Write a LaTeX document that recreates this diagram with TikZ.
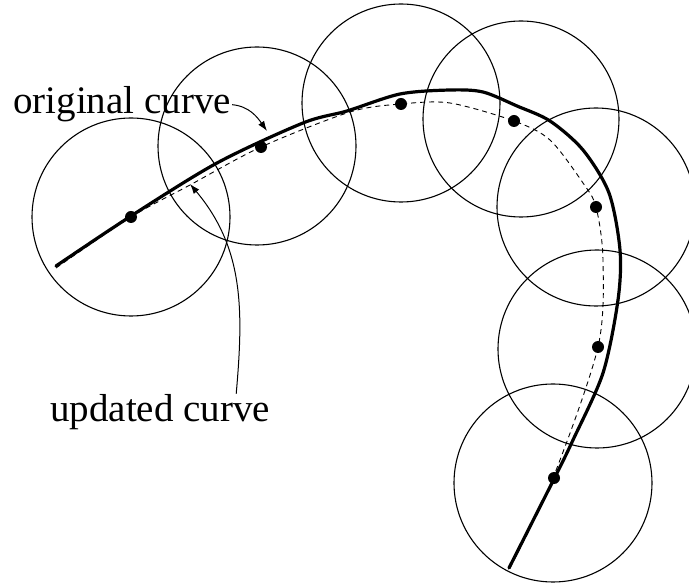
\documentclass[tikz,border=0pt]{standalone}
\usepackage{fontspec}
\setmainfont{Liberation Serif}
\usetikzlibrary{positioning, arrows.meta, calc}

\begin{document}
\begin{tikzpicture}[
    x=1pt, y=-1pt,
    every node/.style={font=\fontsize{39}{45}\selectfont},
    ring/.style={draw=black, line width=1.1pt},
    origCurve/.style={draw=black, line width=3.2pt, line cap=round},
    updCurve/.style={draw=black, line width=0.9pt, dash pattern=on 5pt off 4pt},
    ctrlPt/.style={circle, fill=black, inner sep=0pt, minimum size=12pt},
    lbl/.style={inner sep=1pt, anchor=base west},
    link/.style={draw=black, line width=1pt, -{Latex[length=10pt, width=7pt]}},
]
\useasboundingbox (0,0) rectangle (689,585);
% Kreise um die Stuetzpunkte
\draw[ring] (131,217) circle (99);
\draw[ring] (257,146) circle (99);
\draw[ring] (401,103) circle (99);
\draw[ring] (521,119) circle (98);
\draw[ring] (596,207) circle (99);
\draw[ring] (597,349) circle (99);
\draw[ring] (553,483) circle (99);
% urspruengliche Kurve
\draw[origCurve] plot[smooth, tension=0.5] coordinates {
    (56,266) (131,216) (217,163) (303,123) (347,111) (400,94) (450,90)
    (483,92) (517,106) (550,121) (583,150) (609,193) (620,250) (618,300)
    (603,373) (573,440) (555,477) (509,568)};
% neue Kurve
\draw[updCurve] plot[smooth, tension=0.5] coordinates {
    (56,268) (131,217) (190,185) (261,147) (350,112) (401,104) (450,103)
    (514,121) (550,140) (583,183) (596,207) (603,260) (598,347) (553,478)
    (509,570)};
% Stuetzpunkte
\node[ctrlPt] (p1) at (131,217) {};
\node[ctrlPt] (p2) at (261,147) {};
\node[ctrlPt] (p3) at (401,104) {};
\node[ctrlPt] (p4) at (514,121) {};
\node[ctrlPt] (p5) at (596,207) {};
\node[ctrlPt] (p6) at (598,347) {};
\node[ctrlPt] (p7) at (554,478) {};
% Beschriftungen
\node[lbl] (origLbl) at (12,114) {original curve};
\node[lbl] (updLbl)  at (49,422) {updated curve};
\coordinate (origTip) at (267,131);
\coordinate (updTip)  at (190,184);
\draw[link] (origLbl.east) to[out=-5, in=125] (origTip);
\draw[link] ([xshift=-35pt]updLbl.north east) to[out=85, in=-50] (updTip);
\end{tikzpicture}
\end{document}
